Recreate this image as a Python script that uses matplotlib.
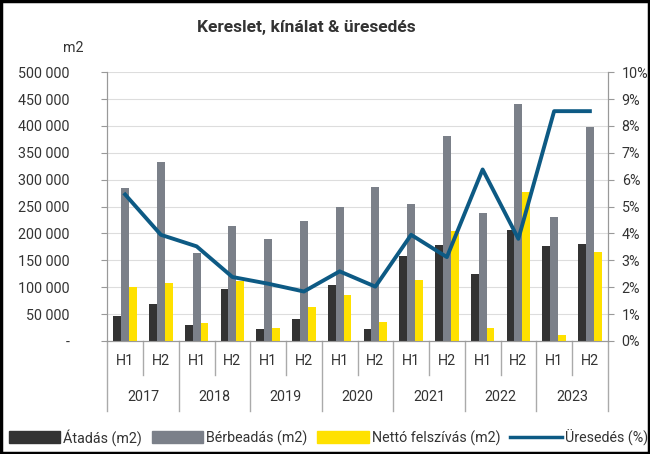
import matplotlib
matplotlib.use("Agg")
import matplotlib.pyplot as plt
import matplotlib.transforms as mtransforms
from matplotlib.patches import Rectangle
from matplotlib.lines import Line2D
import numpy as np

plt.rcParams['font.family'] = ['Roboto', 'DejaVu Sans']

years = ['2017', '2018', '2019', '2020', '2021', '2022', '2023']
halves = ['H1', 'H2'] * 7
atadas = [47000, 68000, 30000, 97000, 23000, 40000, 104000, 23000, 158000, 179000, 125000, 206000, 176000, 180000]
berbeadas = [285000, 333000, 163000, 214000, 190000, 224000, 250000, 286000, 254000, 382000, 238000, 440000, 231000, 398000]
netto = [100000, 107000, 33000, 112000, 25000, 63000, 85000, 35000, 114000, 204000, 25000, 277000, 12000, 166000]
uresedes = [5.45, 3.95, 3.52, 2.38, 2.13, 1.84, 2.59, 2.02, 3.95, 3.12, 6.38, 3.8, 8.55, 8.55]

c_black = '#333333'
c_grey = '#7b8089'
c_yellow = '#ffe100'
c_line = '#0d5a84'
c_text = '#333333'
fs = 10.3

fig = plt.figure(figsize=(6.5, 4.54), dpi=100)
ax = fig.add_axes([0.165, 0.249, 0.77, 0.592])
ax2 = ax.twinx()

x = np.arange(len(halves))
w = 0.22
ax.bar(x - 0.22, atadas, w, color=c_black, zorder=3)
ax.bar(x, berbeadas, w, color=c_grey, zorder=3)
ax.bar(x + 0.22, netto, w, color=c_yellow, zorder=3)
ax2.plot(x, uresedes, color=c_line, lw=2.8, zorder=4)

ax.set_xlim(-0.5, len(halves) - 0.5)
ax.set_ylim(0, 500000)
ax2.set_ylim(0, 10)
yt = np.arange(0, 500001, 50000)
ax.set_yticks(yt)
ax.set_yticklabels(['-'] + ['{:,}'.format(v).replace(',', ' ') for v in yt[1:]])
ax2.set_yticks(range(11))
ax2.set_yticklabels(['{}%'.format(v) for v in range(11)])
ax.grid(axis='y', color='#dddddd', lw=0.8, zorder=0)
ax.set_xticks([])

for a in (ax, ax2):
    a.spines['top'].set_visible(False)
    for s in ['left', 'right', 'bottom']:
        a.spines[s].set_color('#999999')
    a.tick_params(axis='y', colors='#999999', labelcolor=c_text, labelsize=fs, length=4)
ax.tick_params(axis='y', pad=23)
ax2.tick_params(axis='y', pad=6)

# category labels
tr = mtransforms.blended_transform_factory(ax.transData, ax.transAxes)
for i, h in enumerate(halves):
    ax.text(i, -0.075, h, transform=tr, ha='center', va='center', fontsize=fs, color=c_text)
for j, yr in enumerate(years):
    ax.text(2 * j + 0.5, -0.21, yr, transform=tr, ha='center', va='center', fontsize=fs, color=c_text)
for k in range(len(halves) + 1):
    xs = k - 0.5
    y_end = -0.26 if k % 2 == 0 else -0.125
    ax.plot([xs, xs], [0, y_end], transform=tr, color='#aaaaaa', lw=1, clip_on=False)

fig.text(0.472, 0.94, 'Kereslet, kínálat & üresedés', ha='center', va='center',
         fontsize=12.5, fontweight='bold', color=c_text)
fig.text(0.113, 0.895, 'm2', ha='center', va='center', fontsize=fs, color=c_text)

handles = [Rectangle((0, 0), 1, 1, color=c_black),
           Rectangle((0, 0), 1, 1, color=c_grey),
           Rectangle((0, 0), 1, 1, color=c_yellow),
           Line2D([], [], color=c_line, lw=2.5)]
labels = ['Átadás (m2)', 'Bérbeadás (m2)', 'Nettó felszívás (m2)', 'Üresedés (%)']
fig.legend(handles, labels, loc='center', bbox_to_anchor=(0.505, 0.037), ncol=4, frameon=False,
           fontsize=fs, handlelength=3.6, handleheight=0.9, handletextpad=0.2, columnspacing=0.7,
           labelcolor=c_text)

fig.patches.append(Rectangle((0.002, 0.002), 0.996, 0.995, transform=fig.transFigure,
                             fill=False, edgecolor='black', lw=2.5))

fig.savefig('out.png', dpi=100)
